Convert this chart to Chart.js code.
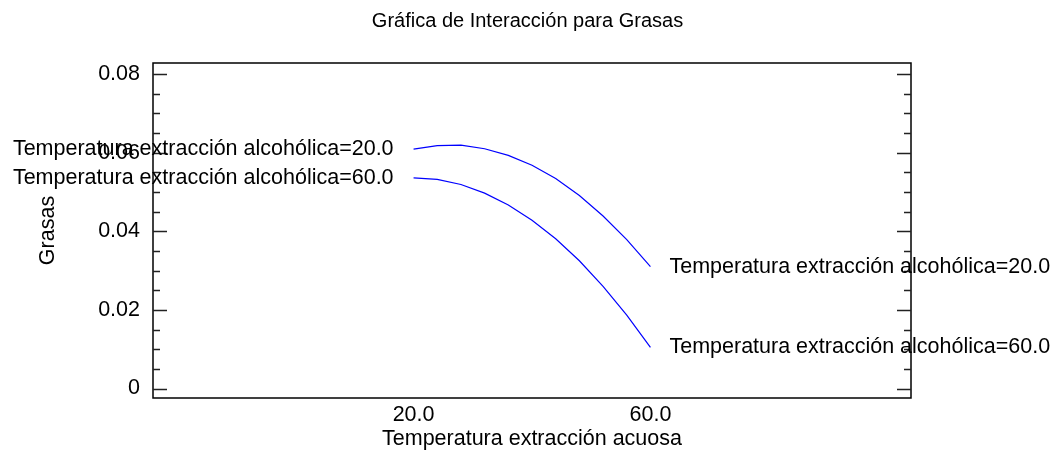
<!DOCTYPE html>
<html>
<head>
<meta charset="utf-8">
<title>Gráfica de Interacción para Grasas</title>
<script src="https://cdn.jsdelivr.net/npm/chart.js@4/dist/chart.umd.min.js"></script>
<style>
  html, body { margin: 0; padding: 0; background: #fff; }
  #wrap { width: 1055px; height: 454px; }
</style>
</head>
<body>
<div id="wrap"><canvas id="chart" width="1055" height="454"></canvas></div>
<script>
// Levels of the aqueous extraction temperature (x axis)
const xLevels = [20, 24, 28, 32, 36, 40, 44, 48, 52, 56, 60];
// Fitted fat content for each alcoholic extraction temperature
const grasasAlc20 = [0.0609, 0.0618, 0.0619, 0.0610, 0.0593, 0.0568, 0.0534, 0.0491, 0.0439, 0.0379, 0.0310];
const grasasAlc60 = [0.0536, 0.0532, 0.0519, 0.0497, 0.0467, 0.0428, 0.0381, 0.0325, 0.0260, 0.0187, 0.0105];
const seriesLabels = ['Temperatura extracción alcohólica=20.0', 'Temperatura extracción alcohólica=60.0'];

// Axis ticks
const xTickValues = [20, 60];
const xTickLabels = ['20.0', '60.0'];
const yTickValues = [0, 0.02, 0.04, 0.06, 0.08];
const yTickLabels = ['0', '0.02', '0.04', '0.06', '0.08'];

const FONT = "'Liberation Sans', Arial, sans-serif";
const FONT_SIZE = 21.5;
const TITLE_SIZE = 20;
Chart.defaults.font.family = FONT;
Chart.defaults.font.size = FONT_SIZE;
Chart.defaults.color = '#000';

const toPoints = ys => xLevels.map((x, i) => ({ x: x, y: ys[i] }));

// Box frame, inward ticks on both vertical sides, and end-of-line labels
const framePlugin = {
  id: 'frameAndLabels',
  afterDatasetsDraw(chart) {
    const { ctx, chartArea: a, scales } = chart;
    const ys = scales.y;
    ctx.save();
    ctx.strokeStyle = '#000';
    ctx.lineWidth = 1.5;
    ctx.strokeRect(a.left, a.top, a.right - a.left, a.bottom - a.top);

    // minor ticks every 0.005, major at the labelled values
    ctx.strokeStyle = '#222';
    ctx.lineWidth = 1.5;
    for (let k = 0; k <= 16; k++) {
      const v = k * 0.005;
      const major = k % 4 === 0;
      const len = major ? 14 : 7;
      const py = Math.round(ys.getPixelForValue(v)) + 0.5;
      ctx.beginPath();
      ctx.moveTo(a.left, py); ctx.lineTo(a.left + len, py);
      ctx.moveTo(a.right, py); ctx.lineTo(a.right - len, py);
      ctx.stroke();
    }

    // series labels at both ends of each line
    ctx.fillStyle = '#000';
    ctx.font = FONT_SIZE + 'px ' + FONT;
    ctx.textBaseline = 'middle';
    chart.data.datasets.forEach((ds, i) => {
      const first = ds.data[0];
      const last = ds.data[ds.data.length - 1];
      const x0 = scales.x.getPixelForValue(first.x);
      const y0 = ys.getPixelForValue(first.y);
      const x1 = scales.x.getPixelForValue(last.x);
      const y1 = ys.getPixelForValue(last.y);
      ctx.textAlign = 'right';
      ctx.fillText(seriesLabels[i], x0 - 20, y0);
      ctx.textAlign = 'left';
      ctx.fillText(seriesLabels[i], x1 + 19, y1);
    });
    ctx.restore();
  }
};

new Chart(document.getElementById('chart'), {
  type: 'line',
  data: {
    datasets: [
      { label: seriesLabels[0], data: toPoints(grasasAlc20), borderColor: '#0000ff', borderWidth: 1.2, pointRadius: 0, tension: 0, fill: false },
      { label: seriesLabels[1], data: toPoints(grasasAlc60), borderColor: '#0000ff', borderWidth: 1.2, pointRadius: 0, tension: 0, fill: false }
    ]
  },
  options: {
    responsive: false,
    animation: false,
    events: [],
    layout: { padding: 0 },
    plugins: {
      legend: { display: false },
      tooltip: { enabled: false },
      title: {
        display: true,
        text: 'Gráfica de Interacción para Grasas',
        font: { size: TITLE_SIZE, weight: 'normal' },
        color: '#000',
        padding: { top: 9, bottom: 30 }
      }
    },
    scales: {
      x: {
        type: 'linear',
        position: 'bottom',
        min: -24,
        max: 104,
        grid: { display: false, drawTicks: false },
        border: { display: false },
        afterBuildTicks: s => { s.ticks = xTickValues.map(v => ({ value: v })); },
        ticks: {
          autoSkip: false,
          maxRotation: 0,
          padding: 4,
          callback: (v, i) => xTickLabels[i]
        },
        title: {
          display: true,
          text: 'Temperatura extracción acuosa',
          font: { size: FONT_SIZE },
          padding: { top: 0, bottom: 2 }
        },
        afterFit: s => { s.height = 56; }
      },
      y: {
        type: 'linear',
        position: 'left',
        min: -0.0024,
        max: 0.0828,
        grid: { display: false, drawTicks: false },
        border: { display: false },
        afterBuildTicks: s => { s.ticks = yTickValues.map(v => ({ value: v })); },
        ticks: {
          autoSkip: false,
          padding: 13,
          callback: (v, i) => yTickLabels[i]
        },
        title: {
          display: true,
          text: 'Grasas',
          font: { size: FONT_SIZE },
          padding: { top: 35, bottom: 0 }
        },
        afterFit: s => { s.width = 153; }
      },
      yRight: {
        type: 'linear',
        position: 'right',
        display: true,
        grid: { display: false, drawTicks: false },
        border: { display: false },
        ticks: { display: false },
        afterFit: s => { s.width = 144; }
      }
    }
  },
  plugins: [framePlugin]
});
</script>
</body>
</html>
